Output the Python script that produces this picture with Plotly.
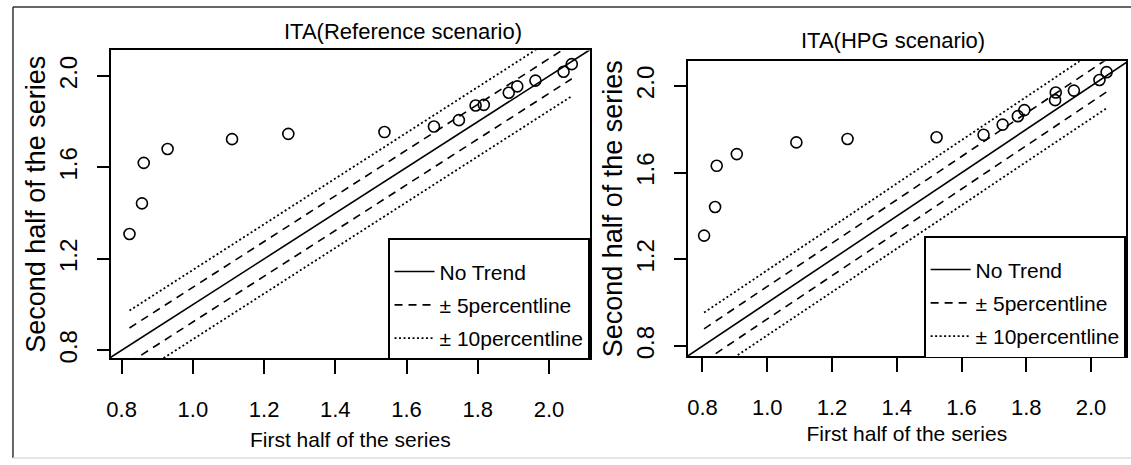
import numpy as np
import plotly.graph_objects as go

# ---------------- data ----------------
ref_first = [0.822, 0.857, 0.862, 0.929, 1.110, 1.268, 1.538, 1.677, 1.747,
             1.794, 1.817, 1.887, 1.911, 1.962, 2.041, 2.064]
ref_second = [1.309, 1.443, 1.620, 1.681, 1.724, 1.747, 1.755, 1.779, 1.807,
              1.871, 1.874, 1.927, 1.955, 1.980, 2.019, 2.052]

hpg_first = [0.805, 0.839, 0.844, 0.906, 1.090, 1.248, 1.523, 1.668, 1.727,
             1.774, 1.794, 1.889, 1.891, 1.947, 2.026, 2.048]
hpg_second = [1.310, 1.442, 1.632, 1.686, 1.740, 1.756, 1.764, 1.775, 1.822,
              1.861, 1.889, 1.935, 1.970, 1.979, 2.028, 2.064]

tick_vals_x = [0.8, 1.0, 1.2, 1.4, 1.6, 1.8, 2.0]
tick_vals_y = [0.8, 1.2, 1.6, 2.0]
titles = ["ITA(Reference scenario)", "ITA(HPG scenario)"]
legend_names = ["No Trend", "\u00b1 5percentline", "\u00b1 10percentline"]
x_title = "First half of the series"
y_title = "Second half of the series"

# ---------------- layout constants ----------------
W, H = 1131, 465
HFONT = "Liberation Sans, Arial"
SANS = "Liberation Sans, Arial"

panels = [
    dict(x=ref_first, y=ref_second, xdom=(107 / W, 588 / W), ydom=(1 - 362 / H, 1 - 51 / H),
         xr=(0.769, 2.115), yr=(0.766, 2.112), title_xy=(400 / W, 1 - 32 / H), xt_off=11),
    dict(x=hpg_first, y=hpg_second, xdom=(686 / W, 1126 / W), ydom=(1 - 360 / H, 1 - 62 / H),
         xr=(0.754, 2.108), yr=(0.754, 2.114), title_xy=(892 / W, 1 - 41 / H), xt_off=7),
]

fig = go.Figure()
LW = 1.6
DASH = "8px,6px"
DOT = "2px,2.5px"
for i, p in enumerate(panels, start=1):
    xa = "x" if i == 1 else f"x{i}"
    ya = "y" if i == 1 else f"y{i}"
    leg = "legend" if i == 1 else f"legend{i}"
    xs = np.array(p["x"])
    off5 = 0.05 * xs.mean()
    off10 = 0.10 * xs.mean()
    seg = np.array([xs.min(), xs.max()])
    full = np.array([min(p["xr"][0], p["yr"][0]) - 0.1, max(p["xr"][1], p["yr"][1]) + 0.1])

    fig.add_trace(go.Scatter(x=full, y=full, mode="lines", xaxis=xa, yaxis=ya,
                             line=dict(color="black", width=LW), name=legend_names[0],
                             legend=leg, legendgroup=f"a{i}"))
    fig.add_trace(go.Scatter(x=seg, y=seg + off5, mode="lines", xaxis=xa, yaxis=ya,
                             line=dict(color="black", width=LW, dash=DASH),
                             name=legend_names[1], legend=leg, legendgroup=f"b{i}"))
    fig.add_trace(go.Scatter(x=seg, y=seg - off5, mode="lines", xaxis=xa, yaxis=ya,
                             line=dict(color="black", width=LW, dash=DASH),
                             showlegend=False, legendgroup=f"b{i}"))
    fig.add_trace(go.Scatter(x=seg, y=seg + off10, mode="lines", xaxis=xa, yaxis=ya,
                             line=dict(color="black", width=1.8, dash=DOT),
                             name=legend_names[2], legend=leg, legendgroup=f"c{i}"))
    fig.add_trace(go.Scatter(x=seg, y=seg - off10, mode="lines", xaxis=xa, yaxis=ya,
                             line=dict(color="black", width=1.8, dash=DOT),
                             showlegend=False, legendgroup=f"c{i}"))
    fig.add_trace(go.Scatter(x=p["x"], y=p["y"], mode="markers", xaxis=xa, yaxis=ya,
                             marker=dict(symbol="circle-open", size=11, color="black",
                                         line=dict(width=1.6, color="black")),
                             showlegend=False, cliponaxis=False))

    axis_common = dict(showline=True, linecolor="black", linewidth=1.6, mirror=True,
                       showgrid=False, zeroline=False, ticks="outside",
                       tickcolor="black", tickwidth=1.6)
    fig.update_layout({
        ("xaxis" if i == 1 else f"xaxis{i}"): dict(
            domain=list(p["xdom"]), range=list(p["xr"]), anchor=ya,
            tickvals=tick_vals_x, ticktext=[f"{v:.1f}" for v in tick_vals_x],
            ticklen=14, ticklabelstandoff=17,
            tickfont=dict(family=HFONT, size=22, color="black"),
            title=dict(text=x_title, font=dict(family=HFONT, size=21, color="black"),
                       standoff=p["xt_off"]),
            **axis_common),
        ("yaxis" if i == 1 else f"yaxis{i}"): dict(
            domain=list(p["ydom"]), range=list(p["yr"]), anchor=xa,
            tickvals=tick_vals_y, ticktext=[f"{v:.1f}" for v in tick_vals_y],
            ticklen=12, tickangle=-90, ticklabelstandoff=10,
            tickfont=dict(family=SANS, size=24, color="black"),
            title=dict(text=y_title, font=dict(family=SANS, size=27, color="black"),
                       standoff=2),
            **axis_common),
        leg: dict(x=p["xdom"][1], y=p["ydom"][0] - 2 / H, xanchor="right", yanchor="bottom",
                  xref="paper", yref="paper",
                  bgcolor="white", bordercolor="black", borderwidth=1.6,
                  font=dict(family=HFONT, size=21, color="black"),
                  title=dict(text=" ", font=dict(size=9)),
                  traceorder="grouped", tracegroupgap=3,
                  itemwidth=40, entrywidth=0),
    })
    fig.add_annotation(text=titles[i - 1], xref="paper", yref="paper",
                       x=p["title_xy"][0], y=p["title_xy"][1],
                       xanchor="center", yanchor="middle", showarrow=False,
                       font=dict(family=HFONT, size=22, color="black"))

# outer frame
fig.add_shape(type="line", xref="paper", yref="paper", x0=9 / W, x1=1.01, y0=1 - 7 / H,
              y1=1 - 7 / H, line=dict(color="#333333", width=1.5))
fig.add_shape(type="line", xref="paper", yref="paper", x0=9 / W, x1=9 / W, y0=1 - 7 / H,
              y1=2 / H, line=dict(color="#333333", width=1.5))
fig.add_shape(type="line", xref="paper", yref="paper", x0=9 / W, x1=1.01, y0=2 / H,
              y1=2 / H, line=dict(color="#dddddd", width=1.5))

fig.update_layout(width=W, height=H, margin=dict(l=0, r=0, t=0, b=0),
                  paper_bgcolor="white", plot_bgcolor="white", showlegend=True)
fig.write_html("out.html")
